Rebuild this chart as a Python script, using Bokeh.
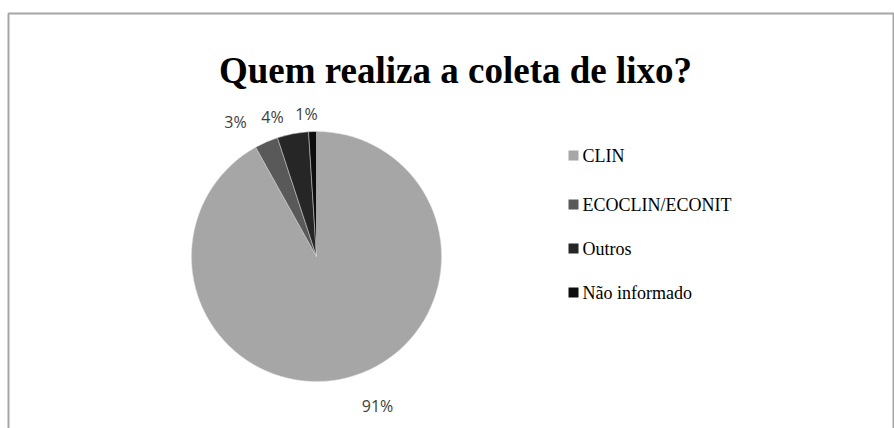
import math
from bokeh.plotting import figure
from bokeh.models import ColumnDataSource, BoxAnnotation, Range1d
from bokeh.core.properties import value
from bokeh.embed import file_html
from bokeh.resources import INLINE

# ---- data ----
title = "Quem realiza a coleta de lixo?"
categories = ["CLIN", "ECOCLIN/ECONIT", "Outros", "Não informado"]
percent = [91, 3, 4, 1]
labels = ["91%", "3%", "4%", "1%"]
colors = ["#a6a6a6", "#595959", "#262626", "#0d0d0d"]

W, H = 894, 428
p = figure(width=W, height=H, output_backend="svg", toolbar_location=None,
           x_range=Range1d(0, W), y_range=Range1d(0, H),
           x_axis_location=None, y_axis_location=None,
           min_border=0, outline_line_color=None)
p.grid.visible = False
p.background_fill_color = "white"
p.border_fill_color = "white"

# chart border
p.add_layout(BoxAnnotation(left=8, right=893, top=H - 13, bottom=-20,
                           fill_alpha=0, line_alpha=1,
                           line_color="#a6a6a6", line_width=2))

# pie (starts at 12 o'clock, clockwise)
cx, cy, r = 316, H - 256, 125
total = sum(percent)
starts, ends = [], []
acc = 0.0
for v in percent:
    starts.append(math.pi / 2 - 2 * math.pi * acc / total)
    acc += v
    ends.append(math.pi / 2 - 2 * math.pi * acc / total)
src = ColumnDataSource(dict(start=starts, end=ends, color=colors, cat=categories))
p.wedge(x=cx, y=cy, radius=r, start_angle="start", end_angle="end",
        direction="clock", fill_color="color", line_color="#d9d9d9",
        line_width=0.5, source=src)

# data labels
lab_x = [377, 235, 272, 306]
lab_y = [H - 405, H - 121, H - 116, H - 113]
p.text(x=lab_x, y=lab_y, text=labels, text_font=value("Open Sans"),
       text_font_size="16px", text_color="#404040",
       text_align="center", text_baseline="middle")

# title
p.text(x=[455], y=[H - 70], text=[title], text_font=value("Liberation Serif"),
       text_font_style="bold", text_font_size="37px", text_color="black",
       text_align="center", text_baseline="alphabetic")

# legend
leg_y = [H - 155, H - 204, H - 248, H - 292]
p.scatter(x=[573] * 4, y=leg_y, marker="square", size=10,
          fill_color=colors, line_color=None)
p.text(x=[582] * 4, y=leg_y, text=categories, text_font=value("Liberation Serif"),
       text_font_size="18px", text_color="black",
       text_align="left", text_baseline="middle")

open("out.html", "w").write(file_html(p, INLINE))
